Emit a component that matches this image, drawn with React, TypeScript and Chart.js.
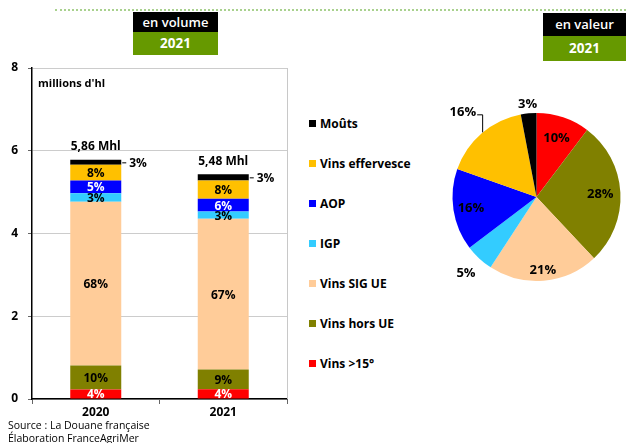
import { useEffect, useRef } from "react";
import { Chart, registerables } from "chart.js";
Chart.register(...registerables);

const FONT = "'Open Sans', 'DejaVu Sans', sans-serif";

const years = ["2020", "2021"];
const seriesNames = ["Vins >15°", "Vins hors UE", "Vins SIG UE", "IGP", "AOP", "Vins effervesce", "Moûts"];
const seriesColors = ["#ff0000", "#808000", "#ffcc99", "#33ccff", "#0000ff", "#ffc000", "#000000"];
const labelColors = ["#ffffff", "#000000", "#000000", "#000000", "#ffffff", "#000000", "#000000"];
const vol2020 = [0.23, 0.58, 3.96, 0.2, 0.31, 0.38, 0.12];
const vol2021 = [0.235, 0.475, 3.645, 0.175, 0.31, 0.44, 0.155];
const pct2020 = ["4%", "10%", "68%", "3%", "5%", "8%", "3%"];
const pct2021 = ["4%", "9%", "67%", "3%", "6%", "8%", "3%"];
const totals = ["5,86 Mhl", "5,48 Mhl"];
const valueShares = [10.3, 27.7, 21.2, 5.5, 15.7, 16.6, 3.0];
const valueLabels = ["10%", "28%", "21%", "5%", "16%", "16%", "3%"];
const yMin = 0;
const yMax = 8;
const yStep = 2;

const barLabelPlugin = {
  id: "barLabels",
  afterDatasetsDraw(chart: any) {
    const ctx = chart.ctx;
    const pcts = [pct2020, pct2021];
    ctx.save();
    ctx.font = `bold 12px ${FONT}`;
    ctx.textBaseline = "middle";
    chart.data.datasets.forEach((_: any, i: number) => {
      const meta = chart.getDatasetMeta(i);
      meta.data.forEach((bar: any, j: number) => {
        const p = bar.getProps(["x", "y", "base", "width"], true);
        const cy = (p.y + p.base) / 2;
        if (i === seriesNames.length - 1) {
          const xr = p.x + p.width / 2;
          ctx.strokeStyle = "#000";
          ctx.lineWidth = 1;
          ctx.beginPath();
          ctx.moveTo(xr + 1, cy + 0.5);
          ctx.lineTo(xr + 5, cy + 0.5);
          ctx.stroke();
          ctx.fillStyle = "#000";
          ctx.textAlign = "left";
          ctx.fillText(pcts[j][i], xr + 8, cy + 1);
          ctx.textAlign = "center";
          ctx.fillText(totals[j], p.x, p.y - 13);
        } else {
          ctx.fillStyle = labelColors[i];
          ctx.textAlign = "center";
          ctx.fillText(pcts[j][i], p.x, cy + 1);
        }
      });
    });
    const a = chart.chartArea;
    ctx.fillStyle = "#000";
    ctx.textAlign = "left";
    ctx.font = `bold 11px ${FONT}`;
    ctx.fillText("millions d'hl", a.left + 6, a.top + 16);
    ctx.strokeStyle = "#c8c8c8";
    ctx.lineWidth = 1;
    ctx.beginPath();
    ctx.moveTo(a.right + 0.5, a.top);
    ctx.lineTo(a.right + 0.5, a.bottom);
    ctx.stroke();
    ctx.restore();
  },
};

const pieRadiusFactors = [0.75, 0.76, 0.86, 1.23, 0.79, 1.345, 1.125];

const pieLabelPlugin = {
  id: "pieLabels",
  afterDatasetsDraw(chart: any) {
    const ctx = chart.ctx;
    const meta = chart.getDatasetMeta(0);
    ctx.save();
    ctx.font = `bold 13px ${FONT}`;
    ctx.textAlign = "center";
    ctx.textBaseline = "middle";
    ctx.fillStyle = "#000";
    meta.data.forEach((arc: any, i: number) => {
      const p = arc.getProps(["x", "y", "startAngle", "endAngle", "outerRadius"], true);
      const mid = (p.startAngle + p.endAngle) / 2;
      const r = p.outerRadius * pieRadiusFactors[i];
      const lx = p.x + Math.cos(mid) * r;
      const ly = p.y + Math.sin(mid) * r;
      ctx.fillText(valueLabels[i], lx, ly + 1);
      if (i === 5) {
        const w = ctx.measureText(valueLabels[i]).width;
        ctx.strokeStyle = "#000";
        ctx.lineWidth = 1;
        ctx.beginPath();
        ctx.moveTo(lx + w / 2 + 1, ly + 3.5);
        ctx.lineTo(lx + w / 2 + 6.5, ly + 3.5);
        ctx.lineTo(lx + w / 2 + 6.5, ly + 21);
        ctx.stroke();
      }
    });
    ctx.restore();
  },
};

function BarChart() {
  const ref = useRef<HTMLCanvasElement>(null);
  useEffect(() => {
    const chart = new Chart(ref.current!, {
      type: "bar",
      data: {
        labels: years,
        datasets: seriesNames.map((name, i) => ({
          label: name,
          data: [vol2020[i], vol2021[i]],
          backgroundColor: seriesColors[i],
          borderWidth: 0,
          categoryPercentage: 1,
          barPercentage: 0.4,
        })),
      },
      options: {
        animation: false,
        responsive: false,
        maintainAspectRatio: false,
        layout: { padding: { top: 68, right: 13, bottom: 24, left: 0 } },
        plugins: { legend: { display: false }, tooltip: { enabled: false } },
        scales: {
          x: {
            stacked: true,
            grid: { offset: true, drawOnChartArea: false, tickLength: 5, color: "#666" },
            border: { color: "#000", width: 1.5 },
            ticks: { color: "#000", font: { family: FONT, weight: "bold", size: 12 }, padding: 1 },
            afterFit: (s: any) => { s.height = 20; },
          },
          y: {
            stacked: true,
            min: yMin,
            max: yMax,
            ticks: { stepSize: yStep, color: "#000", font: { family: FONT, weight: "bold", size: 12 }, padding: 10 },
            grid: { color: "#cccccc", tickColor: "#666", tickLength: 4 },
            border: { color: "#000", width: 1.5 },
            afterFit: (s: any) => { s.width = 32; },
          },
        },
      },
      plugins: [barLabelPlugin],
    } as any);
    return () => chart.destroy();
  }, []);
  return <canvas ref={ref} width={300} height={443} style={{ position: "absolute", left: 0, top: 0 }} />;
}

function PieChart() {
  const ref = useRef<HTMLCanvasElement>(null);
  useEffect(() => {
    const chart = new Chart(ref.current!, {
      type: "pie",
      data: {
        labels: seriesNames,
        datasets: [{ data: valueShares, backgroundColor: seriesColors, borderWidth: 0 }],
      },
      options: {
        animation: false,
        responsive: false,
        maintainAspectRatio: false,
        layout: { padding: { left: 22.5, right: 5.5, top: 33, bottom: 39 } },
        plugins: { legend: { display: false }, tooltip: { enabled: false } },
      },
      plugins: [pieLabelPlugin],
    } as any);
    return () => chart.destroy();
  }, []);
  return <canvas ref={ref} width={196} height={240} style={{ position: "absolute", left: 430, top: 80 }} />;
}

function HeaderBox({ left, top, width, h1, h2, label }: { left: number; top: number; width: number; h1: number; h2: number; label: string }) {
  return (
    <div style={{ position: "absolute", left, top, width }}>
      <div style={{ background: "#000", color: "#fff", height: h1, lineHeight: `${h1}px`, textAlign: "center", fontSize: 13, fontWeight: 600, whiteSpace: "nowrap" }}>{label}</div>
      <div style={{ background: "#669900", color: "#fff", height: h2, lineHeight: `${h2}px`, textAlign: "center", fontSize: 13.5, fontWeight: 700 }}>2021</div>
    </div>
  );
}

export default function App() {
  const legendOrder = seriesNames.map((_, i) => seriesNames.length - 1 - i);
  return (
    <div style={{ position: "absolute", left: 0, top: 0, width: 626, height: 443, background: "#fff", fontFamily: FONT, overflow: "hidden" }}>
      <div style={{ position: "absolute", left: 55, top: 9, width: 571, borderTop: "2px dotted #a9d18e" }} />
      <HeaderBox left={133} top={12} width={85} h1={20} h2={23} label="en volume" />
      <HeaderBox left={543} top={13} width={83} h1={23} h2={25} label="en valeur" />
      <BarChart />
      <PieChart />
      {legendOrder.map((idx, k) => (
        <div key={idx} style={{ position: "absolute", left: 309, top: 116 + k * 40, height: 14, display: "flex", alignItems: "center", fontSize: 12, fontWeight: 700, color: "#000", whiteSpace: "nowrap" }}>
          <span style={{ display: "inline-block", width: 7, height: 7, background: seriesColors[idx], marginRight: 4 }} />
          {seriesNames[idx]}
        </div>
      ))}
      <div style={{ position: "absolute", left: 8, top: 419, fontSize: 10.5, lineHeight: "13px", color: "#000", fontWeight: 500 }}>
        Source : La Douane française
        <br />
        Élaboration FranceAgriMer
      </div>
    </div>
  );
}
